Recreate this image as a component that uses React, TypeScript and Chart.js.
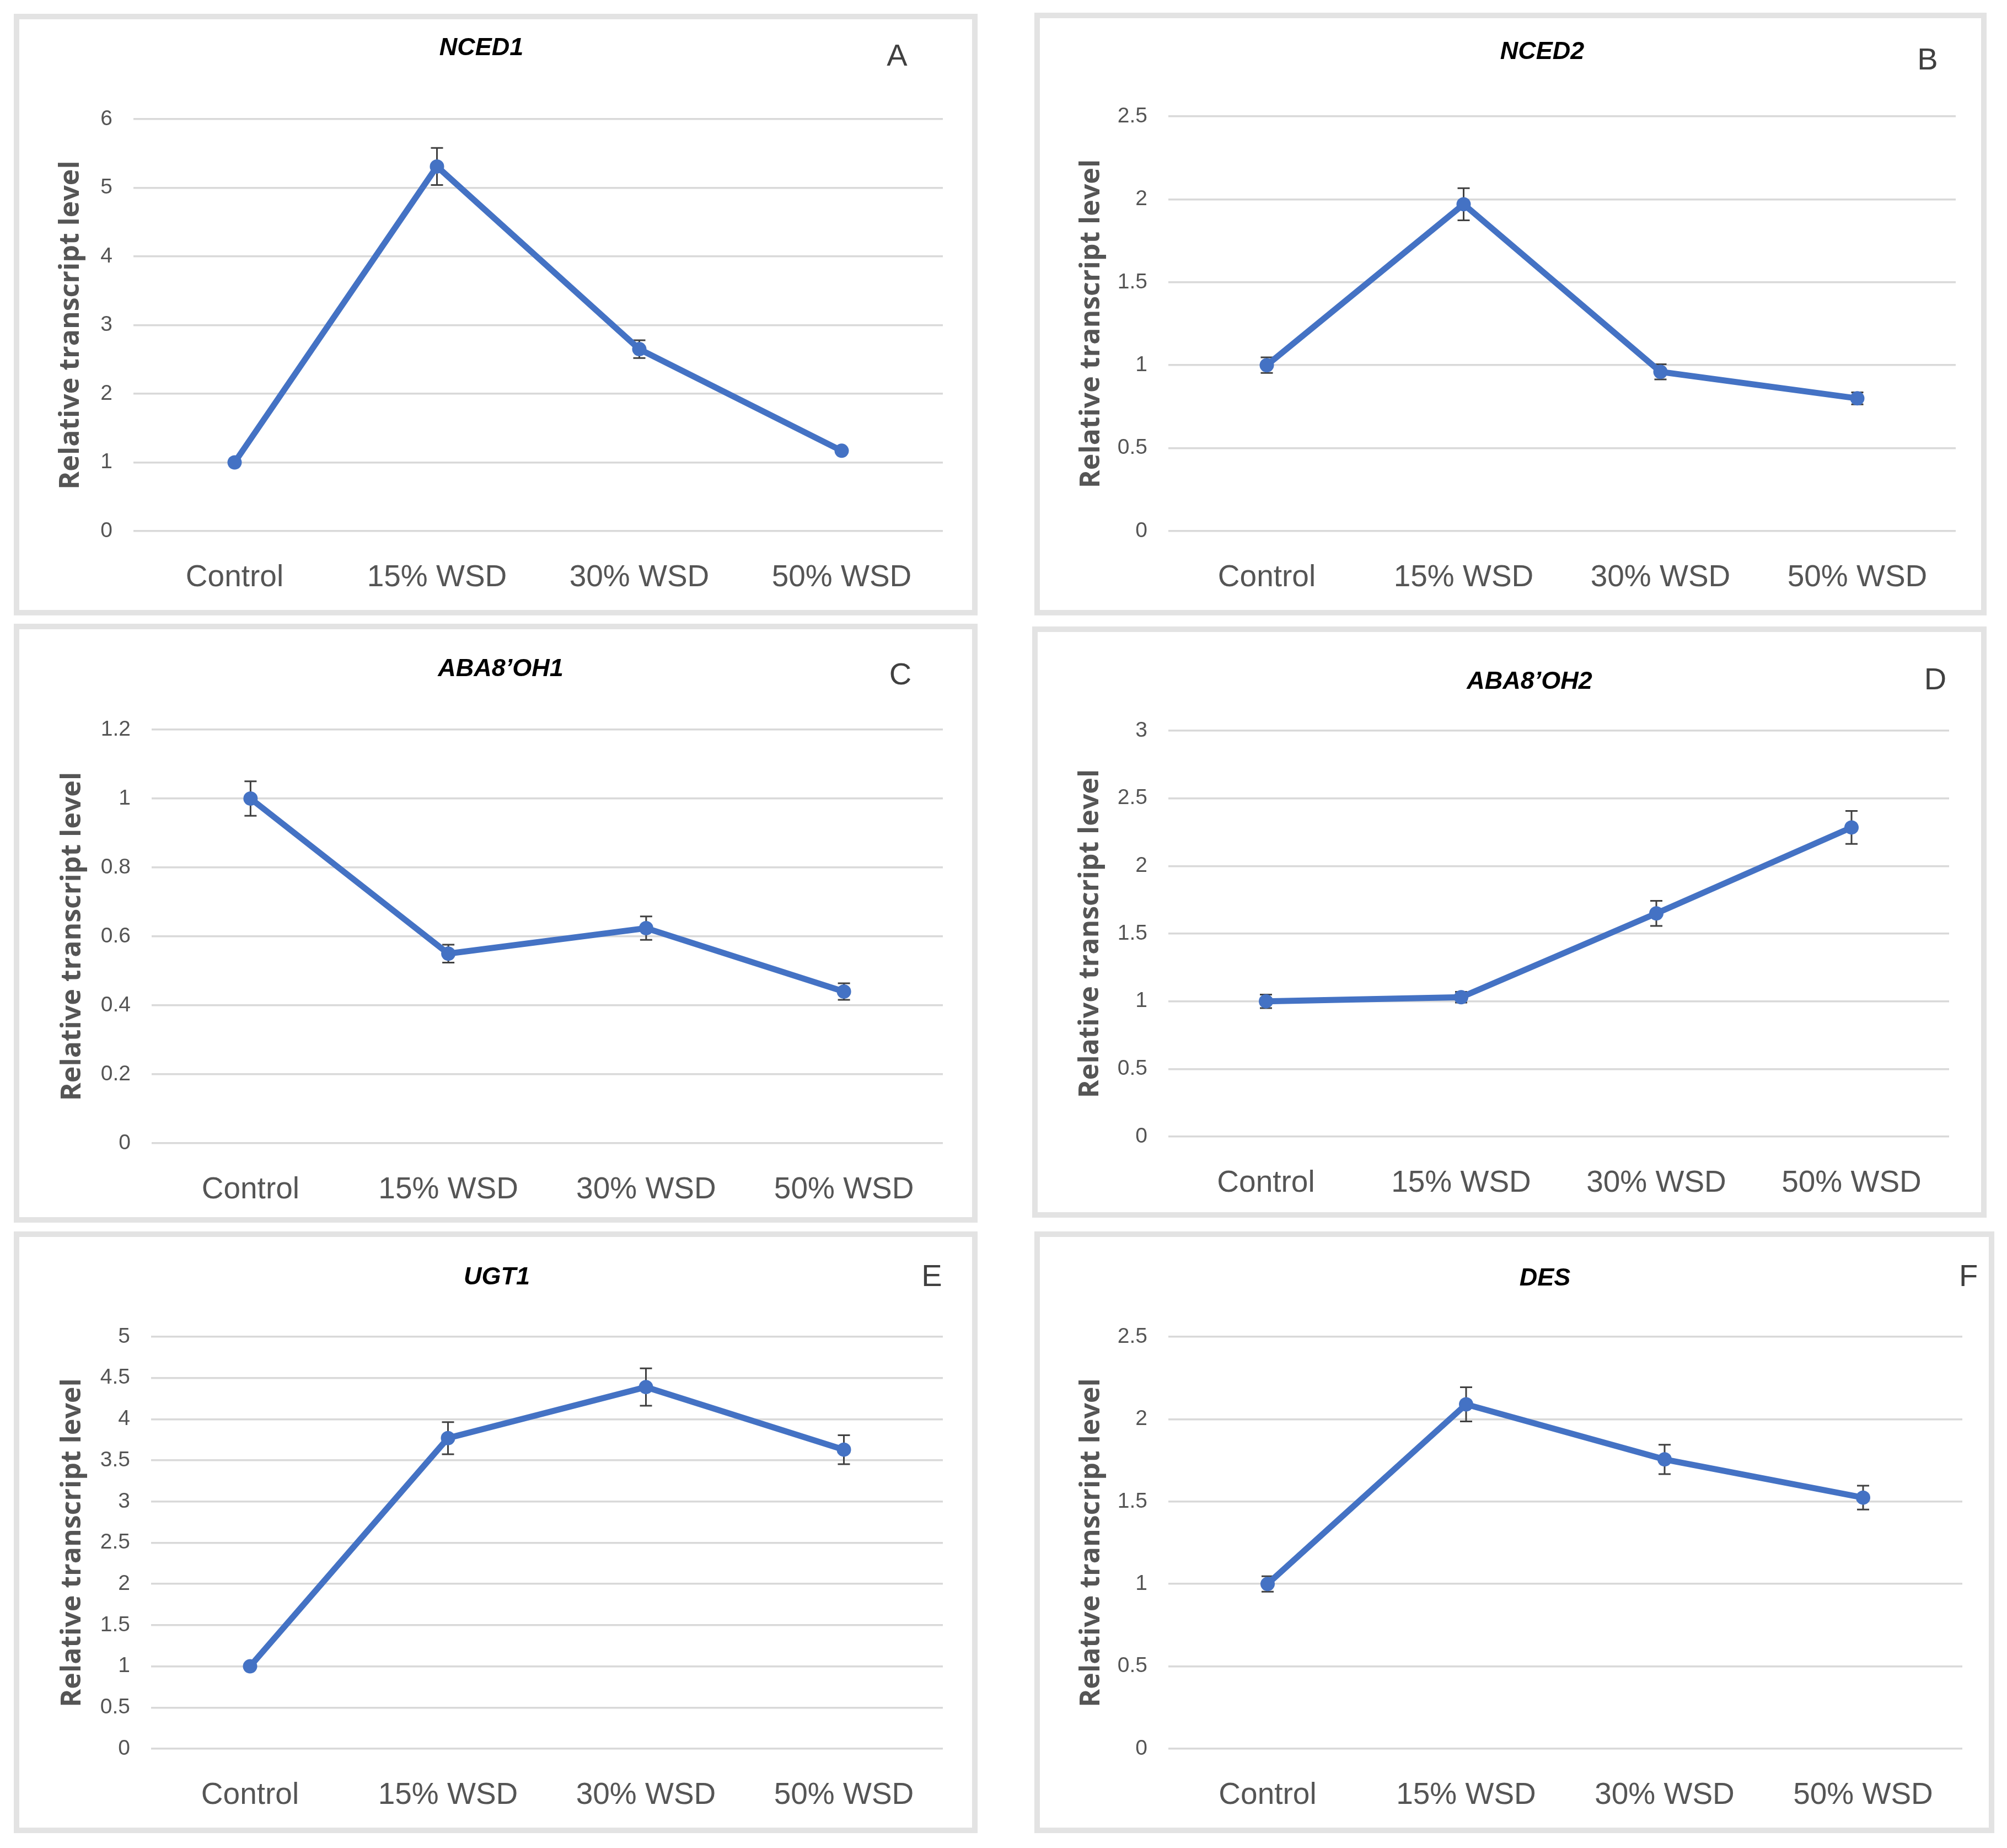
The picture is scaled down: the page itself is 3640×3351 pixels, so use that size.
import { useEffect, useRef } from 'react';
import { Chart, registerables } from 'chart.js';

Chart.register(...registerables);

const categories = ['Control', '15% WSD', '30% WSD', '50% WSD'];

const nced1 = [1, 5.31, 2.65, 1.17];
const nced1Err = [0.02, 0.27, 0.13, 0.03];
const nced2 = [1, 1.97, 0.96, 0.8];
const nced2Err = [0.047, 0.097, 0.046, 0.036];
const aba8oh1 = [1, 0.55, 0.624, 0.44];
const aba8oh1Err = [0.05, 0.026, 0.034, 0.024];
const aba8oh2 = [1, 1.03, 1.65, 2.285];
const aba8oh2Err = [0.05, 0.04, 0.093, 0.122];
const ugt1 = [1, 3.77, 4.39, 3.63];
const ugt1Err = [0.02, 0.195, 0.227, 0.176];
const des = [1, 2.09, 1.756, 1.524];
const desErr = [0.047, 0.104, 0.089, 0.072];

// y axis ranges: [min, max, step]
const nced1Axis = [0, 6, 1];
const nced2Axis = [0, 2.5, 0.5];
const aba8oh1Axis = [0, 1.2, 0.2];
const aba8oh2Axis = [0, 3, 0.5];
const ugt1Axis = [0, 5, 0.5];
const desAxis = [0, 2.5, 0.5];

const series = [
  { gene: 'NCED1', letter: 'A', values: nced1, errors: nced1Err, axis: nced1Axis },
  { gene: 'NCED2', letter: 'B', values: nced2, errors: nced2Err, axis: nced2Axis },
  { gene: 'ABA8\u2019OH1', letter: 'C', values: aba8oh1, errors: aba8oh1Err, axis: aba8oh1Axis },
  { gene: 'ABA8\u2019OH2', letter: 'D', values: aba8oh2, errors: aba8oh2Err, axis: aba8oh2Axis },
  { gene: 'UGT1', letter: 'E', values: ugt1, errors: ugt1Err, axis: ugt1Axis },
  { gene: 'DES', letter: 'F', values: des, errors: desErr, axis: desAxis },
];

// page layout (absolute px): frame box, plot box, text anchors
const layout = [
  { frame: [25, 25, 1773, 1116], plot: [242, 216, 1710, 963], title: [873, 88], letter: [1627, 104], yTitleX: 129 },
  { frame: [1876, 23, 3603, 1116], plot: [2119, 211, 3547, 963], title: [2797, 95], letter: [3496, 111], yTitleX: 1980 },
  { frame: [25, 1131, 1773, 2217], plot: [275, 1323, 1710, 2073], title: [908, 1214], letter: [1633, 1226], yTitleX: 132 },
  { frame: [1872, 1136, 3603, 2208], plot: [2119, 1325, 3535, 2061], title: [2774, 1237], letter: [3510, 1235], yTitleX: 1978 },
  { frame: [25, 2233, 1773, 3324], plot: [274, 2424, 1710, 3171], title: [901, 2317], letter: [1690, 2317], yTitleX: 132 },
  { frame: [1876, 2233, 3617, 3324], plot: [2119, 2424, 3559, 3171], title: [2802, 2319], letter: [3570, 2317], yTitleX: 1980 },
];

const BLUE = '#4472C4';
const GRAY = '#555555';
const X_AXIS_H = 130;

const errorBars = {
  id: 'errorBars',
  beforeDatasetsDraw(chart: any) {
    const ctx = chart.ctx;
    const yScale = chart.scales.y;
    chart.data.datasets.forEach((ds: any, di: number) => {
      const meta = chart.getDatasetMeta(di);
      meta.data.forEach((pt: any, i: number) => {
        const v = ds.data[i];
        const e = ds.errorValues[i];
        const top = yScale.getPixelForValue(v + e);
        const bot = yScale.getPixelForValue(v - e);
        ctx.save();
        ctx.strokeStyle = '#404040';
        ctx.lineWidth = 3;
        ctx.beginPath();
        ctx.moveTo(pt.x, top);
        ctx.lineTo(pt.x, bot);
        ctx.moveTo(pt.x - 11, top);
        ctx.lineTo(pt.x + 11, top);
        ctx.moveTo(pt.x - 11, bot);
        ctx.lineTo(pt.x + 11, bot);
        ctx.stroke();
        ctx.restore();
      });
    });
  },
};

const panelText = {
  id: 'panelText',
  afterDraw(chart: any, _args: any, opts: any) {
    const ctx = chart.ctx;
    ctx.save();
    ctx.textAlign = 'center';
    ctx.textBaseline = 'middle';
    ctx.fillStyle = '#000';
    ctx.font = 'italic bold 45px "Liberation Sans", Arial, sans-serif';
    ctx.fillText(opts.title, opts.titleX, opts.titleY);
    ctx.fillStyle = '#404040';
    ctx.font = '56px "Liberation Sans", Arial, sans-serif';
    ctx.fillText(opts.letter, opts.letterX, opts.letterY);
    ctx.restore();
  },
};

function Panel({ s, l }: { s: any; l: any }) {
  const ref = useRef<HTMLCanvasElement>(null);
  const [fx0, fy0, fx1, fy1] = l.frame;
  const [px0, py0, px1, py1] = l.plot;
  const w = fx1 - fx0;
  const h = fy1 - fy0;

  useEffect(() => {
    if (!ref.current) return;
    const padLeft = l.yTitleX - 30 - fx0;
    const yAxisW = px0 - fx0 - padLeft;
    const chart = new Chart(ref.current, {
      type: 'line',
      data: {
        labels: categories,
        datasets: [
          {
            data: s.values,
            errorValues: s.errors,
            borderColor: BLUE,
            backgroundColor: BLUE,
            borderWidth: 11,
            pointRadius: 13,
            pointBorderWidth: 0,
            pointBackgroundColor: BLUE,
            tension: 0,
          } as any,
        ],
      },
      options: {
        animation: false,
        responsive: false,
        devicePixelRatio: 1,
        layout: {
          padding: {
            left: padLeft,
            top: py0 - fy0,
            right: fx1 - px1,
            bottom: fy1 - py1 - X_AXIS_H,
          },
        },
        plugins: {
          legend: { display: false },
          tooltip: { enabled: false },
          panelText: {
            title: s.gene,
            letter: s.letter,
            titleX: l.title[0] - fx0,
            titleY: l.title[1] - fy0,
            letterX: l.letter[0] - fx0,
            letterY: l.letter[1] - fy0,
          },
        } as any,
        scales: {
          x: {
            offset: true,
            grid: { display: false },
            border: { display: false },
            ticks: {
              color: GRAY,
              padding: 44,
              font: { family: '"Liberation Sans", Arial, sans-serif', size: 55 },
            },
            afterFit: (scale: any) => {
              scale.height = X_AXIS_H;
            },
          },
          y: {
            min: s.axis[0],
            max: s.axis[1],
            ticks: {
              stepSize: s.axis[2],
              color: GRAY,
              padding: 38,
              font: { family: '"Liberation Sans", Arial, sans-serif', size: 39 },
              callback: (v: any) => String(Math.round(Number(v) * 1000) / 1000),
            },
            grid: { color: '#d9d9d9', lineWidth: 3.5, drawTicks: false },
            border: { display: false },
            title: {
              display: true,
              text: 'Relative transcript level',
              color: GRAY,
              padding: 0,
              font: { family: '"Open Sans", sans-serif', size: 50, weight: 'bold', lineHeight: 1.2 },
            },
            afterFit: (scale: any) => {
              scale.width = yAxisW;
            },
          },
        },
      },
      plugins: [errorBars, panelText],
    });
    return () => chart.destroy();
  }, []);

  return (
    <div
      style={{
        position: 'absolute',
        left: fx0,
        top: fy0,
        width: w,
        height: h,
        boxSizing: 'border-box',
        border: '10px solid #e3e3e3',
        background: '#fff',
      }}
    >
      <canvas
        ref={ref}
        width={w}
        height={h}
        style={{ position: 'absolute', left: -10, top: -10, width: w, height: h }}
      />
    </div>
  );
}

export default function App() {
  return (
    <div style={{ position: 'absolute', left: 0, top: 0, width: 3640, height: 3351, background: '#fff' }}>
      {series.map((s, i) => (
        <Panel key={s.gene} s={s} l={layout[i]} />
      ))}
    </div>
  );
}
